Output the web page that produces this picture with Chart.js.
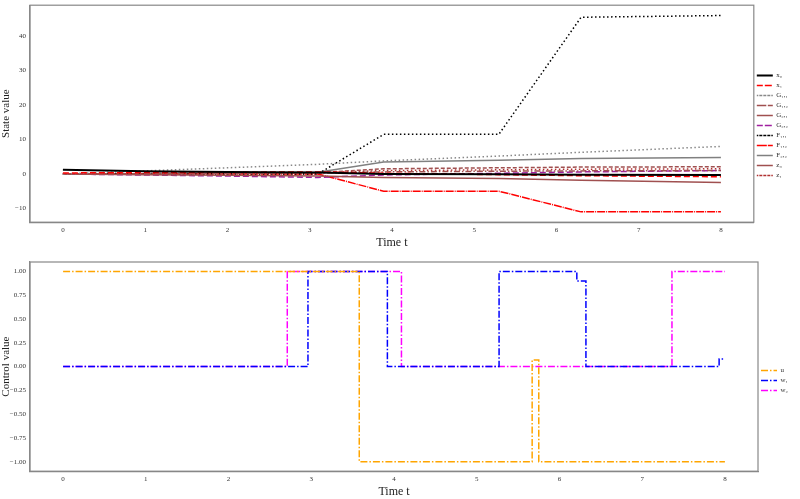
<!DOCTYPE html>
<html>
<head>
<meta charset="utf-8">
<script src="https://cdn.jsdelivr.net/npm/chart.js@4/dist/chart.umd.min.js"></script>
<style>
  body { margin: 0; background: #fff; }
  .box { position: absolute; left: 0; width: 800px; }
</style>
</head>
<body>
<div class="box" style="top:0;height:250px"><canvas id="estados"></canvas></div>
<div class="box" style="top:250px;height:249px"><canvas id="controles"></canvas></div>
<script>
// instantes de tempo (estados)
const tempos = [0, 1, 2, 3.1, 3.9, 5.3, 6.3, 8];

const x0  = [1.2, 0.8, 0.6, 0.4, 0.0, -0.1, -0.2, -0.3];
const x1  = [0.3, 0.4, 0.5, 0.6, 0.2, -0.2, -0.5, -0.8];
const G11 = [0.0, 0.9, 1.8, 2.8, 3.8, 5.2, 6.3, 8.0];
const G12 = [0.0, 0.1, 0.2, 0.3, 0.6, 0.8, 0.9, 1.0];
const G21 = [0.0, -0.2, -0.4, -0.6, -1.0, -1.3, -1.8, -2.5];
const G22 = [0.0, -0.3, -0.6, -1.0, -0.3, 0.2, 0.6, 1.0];
const F11 = [0.0, 0.0, 0.0, 0.0, 11.5, 11.5, 45.5, 46.0];
const F12 = [0.0, 0.0, 0.0, 0.0, -5.0, -5.0, -11.0, -11.0];
const F22 = [0.0, 0.1, 0.2, 0.5, 3.5, 4.0, 4.5, 4.8];
const z0  = [0.0, 0.1, 0.2, 0.4, 1.5, 1.8, 2.0, 2.1];
const z1  = [0.0, 0.1, 0.2, 0.3, 1.0, 1.2, 1.4, 1.5];

// controles (degraus)
const tempoU = [0, 3.58, 5.67, 5.75, 8];
const u      = [1, -1, 0.07, -1, -1];
const tempoW1 = [0, 2.96, 3.92, 5.27, 6.21, 6.32, 7.93, 8];
const w1      = [0, 1, 0, 1, 0.9, 0, 0.08, 0.08];
const tempoW2 = [0, 2.71, 4.09, 7.36, 8];
const w2      = [0, 1, 0, 1, 1];

const fonte = 'Liberation Serif, DejaVu Serif, serif';
Chart.defaults.font.family = fonte;
Chart.defaults.color = '#222';

function pontos(xs, ys) {
    return xs.map((t, i) => ({ x: t, y: ys[i] }));
}

function serie(label, ys, cor, dash, largura) {
    return {
        label: label,
        data: pontos(tempos, ys),
        borderColor: cor,
        backgroundColor: cor,
        borderDash: dash,
        borderWidth: largura || 1.5,
        pointRadius: 0,
        fill: false,
        tension: 0
    };
}

function eixos(ymin, ymax, passo, tituloY, casas) {
    return {
        x: {
            type: 'linear', min: -0.4, max: 8.4,
            afterBuildTicks: (ax) => { ax.ticks = [0,1,2,3,4,5,6,7,8].map(v => ({ value: v })); },
            grid: { display: false, drawTicks: true, tickLength: 3 },
            border: { color: '#888', width: 1.2 },
            ticks: { font: { size: 7 }, color: '#333', maxRotation: 0, padding: 1 },
            title: { display: true, text: 'Time t', font: { size: 12 }, padding: 0 }
        },
        y: {
            min: ymin, max: ymax,
            afterFit: (ax) => { ax.width = 30; },
            afterBuildTicks: (ax) => {
                const t = [];
                for (let v = Math.ceil(ymin / passo) * passo; v <= ymax + 1e-9; v += passo) t.push({ value: +v.toFixed(4) });
                ax.ticks = t;
            },
            grid: { display: false, tickLength: 3 },
            border: { color: '#888', width: 1.2 },
            ticks: {
                font: { size: 7 }, color: '#333', padding: 1,
                callback: (v) => (v < 0 ? '\u2212' : '') + Math.abs(v).toFixed(casas)
            },
            title: { display: true, text: tituloY, font: { size: 11 }, padding: 0 }
        }
    };
}

function legenda() {
    return {
        position: 'right',
        labels: { boxWidth: 16, boxHeight: 0, font: { size: 7 }, padding: 3, color: '#333' }
    };
}

// borda do gráfico (caixa)
const moldura = {
    id: 'moldura',
    afterDraw(chart) {
        const a = chart.chartArea, c = chart.ctx;
        c.save();
        c.strokeStyle = '#888';
        c.lineWidth = 1.2;
        c.strokeRect(a.left, a.top, a.right - a.left, a.bottom - a.top);
        c.restore();
    }
};

new Chart(document.getElementById('estados'), {
    type: 'line',
    data: {
        datasets: [
            serie('x\u2080', x0, '#000', [], 2),
            serie('x\u2081', x1, '#ff0000', [6, 3]),
            serie('G\u2081,\u2081', G11, '#888', [1.5, 2.5]),
            serie('G\u2081,\u2082', G12, '#a05050', [6, 2, 1.5, 2]),
            serie('G\u2082,\u2081', G21, '#a05050', []),
            serie('G\u2082,\u2082', G22, '#a020a0', [6, 3]),
            serie('F\u2081,\u2081', F11, '#000', [1.5, 2.5]),
            serie('F\u2081,\u2082', F12, '#ff0000', [8, 1, 1, 1]),
            serie('F\u2082,\u2082', F22, '#808080', []),
            serie('z\u2080', z0, '#a05050', [4, 2]),
            serie('z\u2081', z1, '#b03030', [1.5, 2.5])
        ]
    },
    options: {
        responsive: true, maintainAspectRatio: false, animation: false,
        layout: { padding: { top: 1, right: 2, bottom: 0, left: 0 } },
        plugins: { legend: legenda(), tooltip: { enabled: false } },
        scales: eixos(-14, 49, 10, 'State value', 0)
    },
    plugins: [moldura]
});

function degrau(label, xs, ys, cor) {
    return {
        label: label,
        data: pontos(xs, ys),
        borderColor: cor,
        backgroundColor: cor,
        borderDash: [7, 2, 1.5, 2],
        borderWidth: 1.5,
        pointRadius: 0,
        stepped: 'before',
        fill: false
    };
}

new Chart(document.getElementById('controles'), {
    type: 'line',
    data: {
        datasets: [
            degrau('u', tempoU, u, '#ffa500'),
            degrau('w\u2081', tempoW1, w1, '#0000ff'),
            degrau('w\u2082', tempoW2, w2, '#ff00ff')
        ]
    },
    options: {
        responsive: true, maintainAspectRatio: false, animation: false,
        layout: { padding: { top: 12, right: 2, bottom: 0, left: 0 } },
        plugins: { legend: legenda(), tooltip: { enabled: false } },
        scales: eixos(-1.1, 1.1, 0.25, 'Control value', 2)
    },
    plugins: [moldura]
});
</script>
</body>
</html>
